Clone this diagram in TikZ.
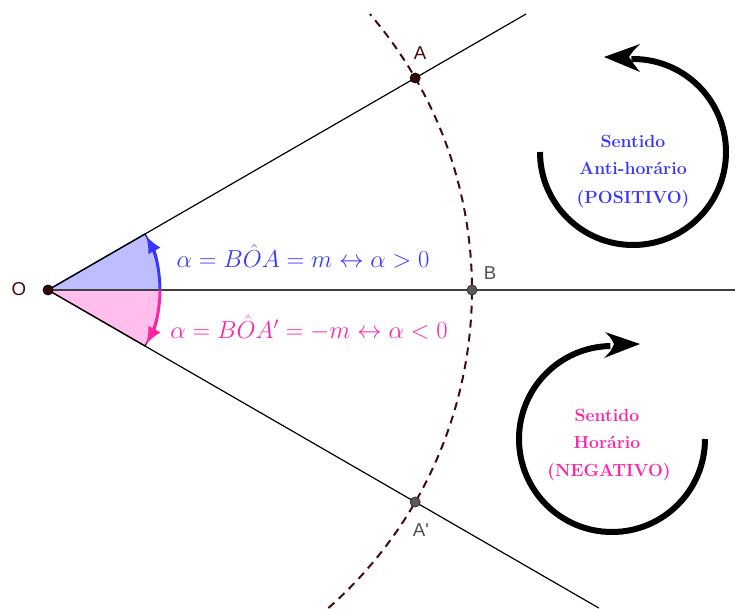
\RequirePackage{fix-cm}
\documentclass[tikz,border=0pt]{standalone}
\usepackage{fontspec}
\newfontfamily\labelfont{Liberation Sans}
\usetikzlibrary{arrows.meta,calc}
\definecolor{bluetxt}{RGB}{55,55,255}
\definecolor{pinktxt}{RGB}{255,35,165}
\definecolor{bluefill}{RGB}{190,190,255}
\definecolor{pinkfill}{RGB}{255,190,235}
\definecolor{bluedark}{RGB}{20,20,120}
\definecolor{pinkdark}{RGB}{90,20,60}
\definecolor{maroon}{RGB}{70,10,10}
\definecolor{ptgray}{RGB}{90,90,90}
\definecolor{lblgray}{RGB}{80,80,80}
\begin{document}
\begin{tikzpicture}[x=0.75pt,y=0.75pt,
  ray/.style={draw=black,line width=0.9pt},
  axis/.style={draw=black!75,line width=1.1pt},
  dasharc/.style={draw=maroon,line width=1.5pt,dash pattern=on 6pt off 4.5pt},
  ptdark/.style={circle,inner sep=0pt,minimum size=7.5pt,fill=maroon!80!black,draw=black,line width=0.6pt},
  ptgrey/.style={circle,inner sep=0pt,minimum size=7.5pt,fill=ptgray,draw=black!80,line width=0.6pt},
  ptlabel/.style={font=\labelfont\fontsize{14}{16}\selectfont,inner sep=0pt},
  mathlbl/.style={font=\fontsize{18.4}{22}\selectfont,inner sep=0pt},
  sentido/.style={font=\bfseries\fontsize{13.2}{15}\selectfont,inner sep=0pt},
  circarrow/.style={draw=black,line width=4.5pt},
  anglearc/.style={line width=2.2pt,-{Latex[length=13pt,width=10.5pt]}}
]
\useasboundingbox (0,0) rectangle (735,608);
% key points
\coordinate (O) at (48,318);
\coordinate (B) at (472,318);
\coordinate (A) at ($(O)+(30:424)$);
\coordinate (Ap) at ($(O)+(-30:424)$);
\coordinate (Rup) at ($(O)+(30:552)$);
\coordinate (Rdn) at ($(O)+(-30:636)$);
\coordinate (Rh) at (735,318);
\coordinate (Dbot) at ($(O)+(-48.6:424)$);
% sectors
\filldraw[fill=bluefill,draw=bluedark,line width=1pt] (O) -- ++(112,0) arc[start angle=0,end angle=30,radius=112] -- cycle;
\filldraw[fill=pinkfill,draw=pinkdark,line width=1pt] (O) -- ++(112,0) arc[start angle=0,end angle=-30,radius=112] -- cycle;
% rays
\draw[ray] (O) -- (A) -- (Rup);
\draw[ray] (O) -- (Ap) -- (Rdn);
\draw[axis] (O) -- (B) -- (Rh);
% dashed arc
\draw[dasharc] (Dbot) arc[start angle=-48.6,end angle=40.6,radius=424];
% angle arcs
\draw[anglearc,draw=bluetxt,fill=none] ($(O)+(112,0)$) arc[start angle=0,end angle=29,radius=112];
\draw[anglearc,draw=pinktxt,fill=none] ($(O)+(112,0)$) arc[start angle=0,end angle=-29,radius=112];
% points
\node[ptdark] (nO) at (O) {};
\node[ptdark] (nA) at (A) {};
\node[ptgrey] (nB) at (B) {};
\node[ptgrey] (nAp) at (Ap) {};
% point labels
\node[ptlabel,text=maroon] (lO) at (19,319) {O};
\node[ptlabel,text=maroon] (lA) at (420,555) {A};
\node[ptlabel,text=lblgray] (lB) at (490,335) {B};
\node[ptlabel,text=lblgray] (lAp) at (421,78) {A'};
% math labels
\node[mathlbl,text=bluetxt] (m1) at (303,352) {$\alpha = B\hat{O}A = m \leftrightarrow \alpha > 0$};
\node[mathlbl,text=pinktxt] (m2) at (309,280) {$\alpha = B\hat{O}A' = -m \leftrightarrow \alpha < 0$};
% counter-clockwise arrow
\draw[circarrow] (540,456) arc[start angle=180,end angle=451,radius=93];
\fill[black] (604,551) -- (640,564) .. controls (633,557) .. (629,551) .. controls (633,545) .. (640,536) -- cycle;
\node[sentido,text=bluetxt] (s1) at (633,467) {Sentido};
\node[sentido,text=bluetxt] (s2) at (633,440) {Anti-horário};
\node[sentido,text=bluetxt] (s3) at (633,409) {(POSITIVO)};
% clockwise arrow
\draw[circarrow] (705,169) arc[start angle=0,end angle=-269,radius=93];
\fill[black] (640,264) -- (605,276) .. controls (611,270) .. (614,264) .. controls (611,257) .. (604,250) -- cycle;
\node[sentido,text=pinktxt] (t1) at (607,193) {Sentido};
\node[sentido,text=pinktxt] (t2) at (607,166) {Horário};
\node[sentido,text=pinktxt] (t3) at (609,136) {(NEGATIVO)};
\end{tikzpicture}
\end{document}
